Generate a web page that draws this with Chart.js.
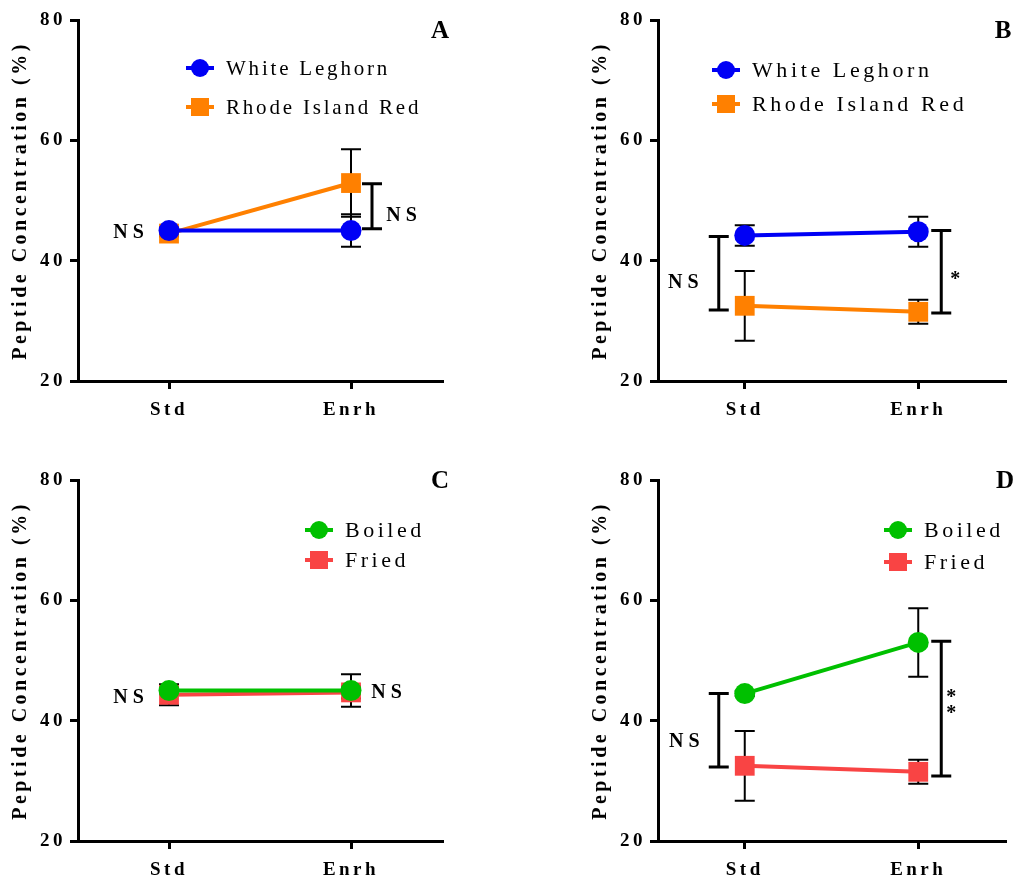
<!DOCTYPE html>
<html>
<head>
<meta charset="utf-8">
<script src="https://cdn.jsdelivr.net/npm/chart.js@4.4.1/dist/chart.umd.min.js"></script>
<style>
  body { margin: 0; background: #fff; width: 1019px; height: 881px; position: relative; overflow: hidden; font-family: 'Liberation Serif', serif; }
  canvas { position: absolute; }
</style>
</head>
<body>
<canvas id="panelA" width="460" height="440" style="left:0;top:0"></canvas>
<canvas id="panelB" width="439" height="440" style="left:580px;top:0"></canvas>
<canvas id="panelC" width="460" height="421" style="left:0;top:460px"></canvas>
<canvas id="panelD" width="439" height="421" style="left:580px;top:460px"></canvas>
<script>
// categories and tick labels
const categories = ['Std', 'Enrh'];
const yTicks = [20, 40, 60, 80];
const breedNames = ['White Leghorn', 'Rhode Island Red'];
const cookNames = ['Boiled', 'Fried'];

// A: breeds
const aLeghorn = [45.0, 45.0];
const aLeghornErr = [0.6, 2.7];
const aRhode = [44.5, 52.9];
const aRhodeErr = [0.5, 5.6];
const aBracketRight = [45.3, 52.8];

// B: breeds
const bLeghorn = [44.2, 44.8];
const bLeghornErr = [1.7, 2.5];
const bRhode = [32.5, 31.5];
const bRhodeErr = [5.8, 2.0];
const bBracketLeft = [31.8, 44.0];
const bBracketRight = [31.3, 45.0];

// C: cooking
const cBoiled = [45.0, 45.0];
const cBoiledErr = [0.5, 2.7];
const cFried = [44.3, 44.7];
const cFriedErr = [1.75, 1.0];

// D: cooking
const dBoiled = [44.5, 53.0];
const dBoiledErr = [0.4, 5.7];
const dFried = [32.5, 31.5];
const dFriedErr = [5.8, 2.0];
const dBracketLeft = [32.3, 44.5];
const dBracketRight = [30.8, 53.2];

const SERIF = 'Liberation Serif, DejaVu Serif, serif';
const BLUE = '#0000f5', ORANGE = '#ff8000', GREEN = '#00c000', RED = '#f94444';

function series(label, data, err, color, shape) {
	return {
		label, data, err,
		borderColor: color, backgroundColor: color,
		borderWidth: 4,
		pointStyle: shape,
		pointRadius: shape === 'rect' ? 14 : 10.5,
		pointBorderWidth: 0,
		pointBackgroundColor: color,
		tension: 0
	};
}

function bracket(ctx, x, yTop, yBot) {
	ctx.save();
	ctx.strokeStyle = '#000'; ctx.lineWidth = 3;
	ctx.beginPath();
	ctx.moveTo(x, yTop); ctx.lineTo(x, yBot);
	ctx.moveTo(x - 10, yTop); ctx.lineTo(x + 10, yTop);
	ctx.moveTo(x - 10, yBot); ctx.lineTo(x + 10, yBot);
	ctx.stroke();
	ctx.restore();
}

function label(ctx, text, x, y, size, spacing, weight) {
	ctx.save();
	ctx.font = (weight || 'bold') + ' ' + size + 'px ' + SERIF;
	ctx.letterSpacing = spacing + 'px';
	ctx.fillStyle = '#000';
	ctx.textAlign = 'center';
	ctx.textBaseline = 'middle';
	ctx.fillText(text, x, y);
	ctx.restore();
}

const errorBars = {
	id: 'errorBars',
	beforeDatasetsDraw(chart) {
		const ctx = chart.ctx, y = chart.scales.y;
		chart.data.datasets.forEach((ds, i) => {
			chart.getDatasetMeta(i).data.forEach((pt, j) => {
				const hi = y.getPixelForValue(ds.data[j] + ds.err[j]);
				const lo = y.getPixelForValue(ds.data[j] - ds.err[j]);
				ctx.save();
				ctx.strokeStyle = '#000'; ctx.lineWidth = 2;
				ctx.beginPath();
				ctx.moveTo(pt.x, hi); ctx.lineTo(pt.x, lo);
				ctx.moveTo(pt.x - 10, hi); ctx.lineTo(pt.x + 10, hi);
				ctx.moveTo(pt.x - 10, lo); ctx.lineTo(pt.x + 10, lo);
				ctx.stroke();
				ctx.restore();
			});
		});
	}
};

const extras = {
	id: 'extras',
	beforeDraw(chart) {
		chart.ctx.letterSpacing = '3.5px';
	},
	afterDraw(chart, args, o) {
		const ctx = chart.ctx, x = chart.scales.x, y = chart.scales.y;
		ctx.letterSpacing = '0px';
		// panel letter
		label(ctx, o.letter, o.letterX, o.letterY, 25, 0);
		// legend
		const lg = o.legend;
		chart.data.datasets.forEach((ds, i) => {
			const cy = lg.y + i * lg.gap;
			ctx.save();
			ctx.strokeStyle = ds.borderColor; ctx.lineWidth = 4;
			ctx.beginPath(); ctx.moveTo(lg.x - 14, cy); ctx.lineTo(lg.x + 14, cy); ctx.stroke();
			ctx.fillStyle = ds.borderColor;
			if (ds.pointStyle === 'rect') ctx.fillRect(lg.x - 9, cy - 9, 18, 18);
			else { ctx.beginPath(); ctx.arc(lg.x, cy, 9, 0, Math.PI * 2); ctx.fill(); }
			ctx.font = 'normal ' + lg.size + 'px ' + SERIF;
			ctx.letterSpacing = lg.spacing + 'px';
			ctx.fillStyle = '#000';
			ctx.textBaseline = 'middle';
			ctx.fillText(ds.label, lg.x + 26, cy + 1);
			ctx.restore();
		});
		// significance brackets
		(o.brackets || []).forEach(b => {
			bracket(ctx, x.getPixelForValue(b.at) + b.dx, y.getPixelForValue(b.range[1]), y.getPixelForValue(b.range[0]));
		});
		// significance text
		(o.notes || []).forEach(n => {
			const lines = n.text.split('\n');
			lines.forEach((t, k) => {
				label(ctx, t, x.getPixelForValue(n.at) + n.dx, y.getPixelForValue(n.value) + (k - (lines.length - 1) / 2) * 16, n.size || 20, n.size ? 0 : 5);
			});
		});
	}
};

function makePanel(id, datasets, right, extraOpts) {
	const canvas = document.getElementById(id);
	const H = canvas.height;
	return new Chart(canvas, {
		type: 'line',
		data: { labels: categories, datasets },
		options: {
			responsive: false,
			animation: false,
			layout: { padding: { top: 20, right: canvas.width - right, left: 0, bottom: 0 } },
			plugins: { legend: { display: false }, tooltip: { enabled: false }, extras: extraOpts },
			scales: {
				x: {
					type: 'category',
					offset: true,
					afterFit: s => { s.height = H - 20 - 361; },
					grid: { drawOnChartArea: false, drawTicks: true, tickLength: 8, color: '#000', lineWidth: 3 },
					border: { display: true, color: '#000', width: 3 },
					ticks: { color: '#000', font: { family: SERIF, size: 19, weight: 'bold' }, padding: 10 }
				},
				y: {
					min: 20, max: 80,
					afterFit: s => { s.width = 78; },
					afterBuildTicks: s => { s.ticks = yTicks.map(v => ({ value: v })); },
					grid: { drawOnChartArea: false, drawTicks: true, tickLength: 8, color: '#000', lineWidth: 3 },
					border: { display: true, color: '#000', width: 3 },
					ticks: { color: '#000', font: { family: SERIF, size: 19, weight: 'bold' }, padding: 4 },
					title: { display: true, text: 'Peptide Concentration (%)', color: '#000', padding: { top: 9, bottom: 0 },
						font: { family: SERIF, size: 20, weight: 'bold' } }
				}
			}
		},
		plugins: [errorBars, extras]
	});
}

makePanel('panelA', [
	series(breedNames[0], aLeghorn, aLeghornErr, BLUE, 'circle'),
	series(breedNames[1], aRhode, aRhodeErr, ORANGE, 'rect')
], 442, {
	letter: 'A', letterX: 440, letterY: 32,
	legend: { x: 200, y: 68, gap: 39, size: 21, spacing: 2.8 },
	brackets: [{ at: 'Enrh', dx: 21, range: aBracketRight }],
	notes: [{ text: 'NS', at: 'Std', dx: -38, value: 44.7 }, { text: 'NS', at: 'Enrh', dx: 53, value: 47.5 }]
});

makePanel('panelB', [
	series(breedNames[0], bLeghorn, bLeghornErr, BLUE, 'circle'),
	series(breedNames[1], bRhode, bRhodeErr, ORANGE, 'rect')
], 437, {
	letter: 'B', letterX: 423, letterY: 32,
	legend: { x: 146, y: 70, gap: 34, size: 22, spacing: 3.6 },
	brackets: [{ at: 'Std', dx: -26, range: bBracketLeft }, { at: 'Enrh', dx: 23, range: bBracketRight }],
	notes: [{ text: 'NS', at: 'Std', dx: -59, value: 36.3 }, { text: '*', at: 'Enrh', dx: 37, value: 36.8, size: 20 }]
});

makePanel('panelC', [
	series(cookNames[0], cBoiled, cBoiledErr, GREEN, 'circle'),
	series(cookNames[1], cFried, cFriedErr, RED, 'rect')
], 442, {
	letter: 'C', letterX: 440, letterY: 22,
	legend: { x: 319, y: 70, gap: 30, size: 22, spacing: 3.5 },
	notes: [{ text: 'NS', at: 'Std', dx: -38, value: 43.8 }, { text: 'NS', at: 'Enrh', dx: 38, value: 44.7 }]
});

makePanel('panelD', [
	series(cookNames[0], dBoiled, dBoiledErr, GREEN, 'circle'),
	series(cookNames[1], dFried, dFriedErr, RED, 'rect')
], 437, {
	letter: 'D', letterX: 425, letterY: 22,
	legend: { x: 318, y: 70, gap: 32, size: 22, spacing: 3.5 },
	brackets: [{ at: 'Std', dx: -26, range: dBracketLeft }, { at: 'Enrh', dx: 23, range: dBracketRight }],
	notes: [{ text: 'NS', at: 'Std', dx: -58, value: 36.5 }, { text: '*\n*', at: 'Enrh', dx: 33, value: 42.5, size: 20 }]
});
</script>
</body>
</html>
